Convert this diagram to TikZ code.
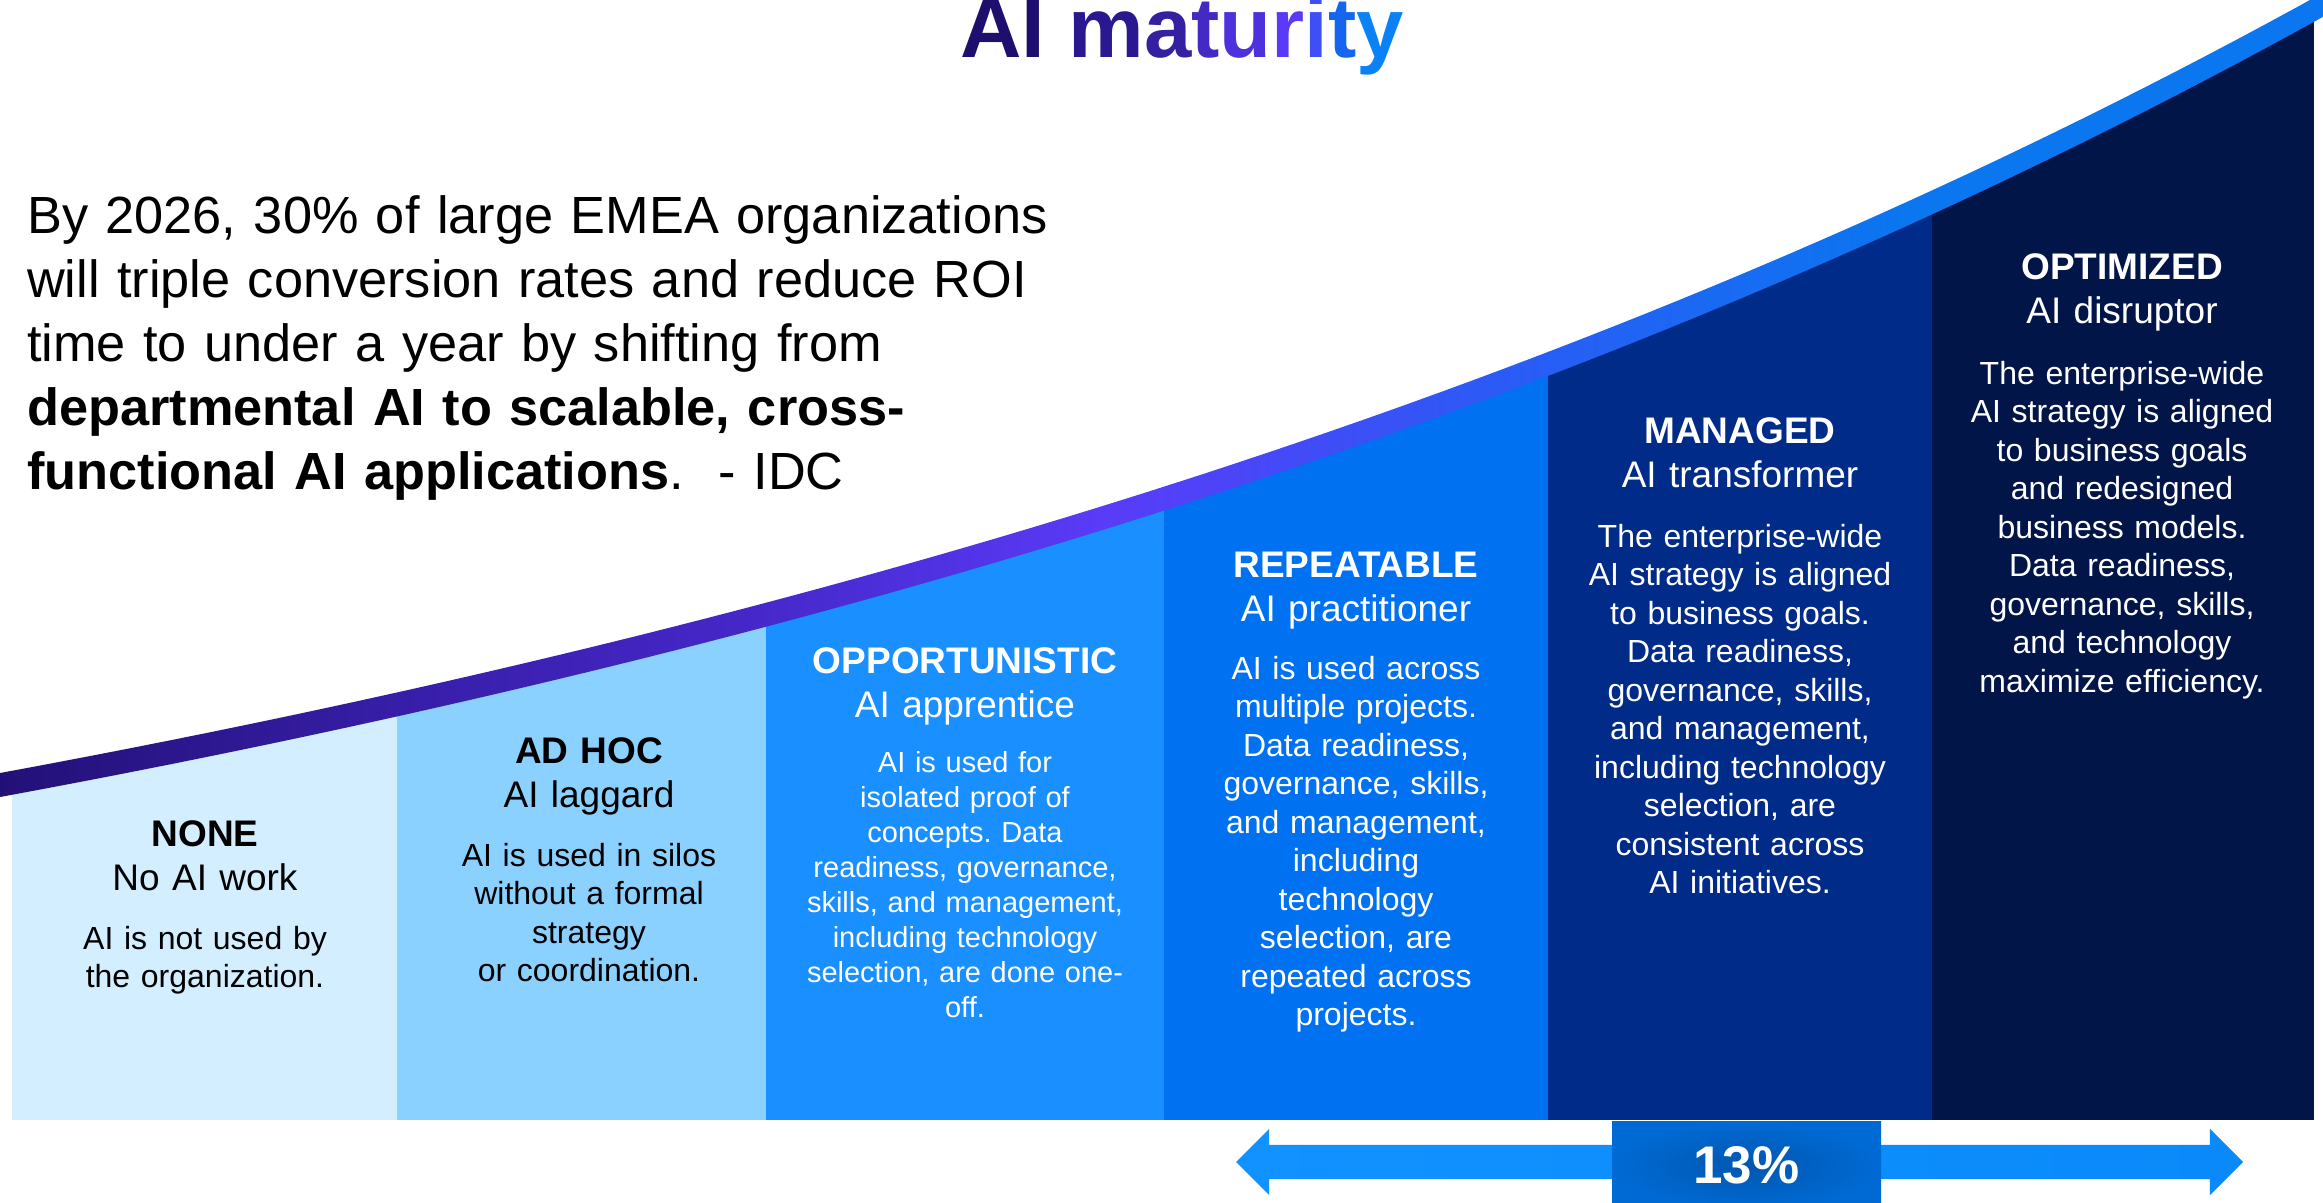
\documentclass[tikz,border=0pt]{standalone}
\usepackage{fontspec}
\setmainfont{Liberation Sans}
\usetikzlibrary{shapes.arrows}
\frenchspacing

\definecolor{lvlnone}{HTML}{D2EEFF}
\definecolor{lvladhoc}{HTML}{8AD1FF}
\definecolor{lvlopp}{HTML}{1A8FFF}
\definecolor{lvlrep}{HTML}{0071F0}
\definecolor{lvlman}{HTML}{012B89}
\definecolor{lvlopt}{HTML}{011549}
\definecolor{bandA}{HTML}{231077}
\definecolor{bandB}{HTML}{371EA8}
\definecolor{bandC}{HTML}{4527C8}
\definecolor{bandD}{HTML}{5A3BF8}
\definecolor{bandE}{HTML}{2B5BF6}
\definecolor{bandF}{HTML}{0A76EF}
\definecolor{ttlA}{HTML}{1E0F6E}
\definecolor{ttlB}{HTML}{2A1890}
\definecolor{ttlC}{HTML}{3520A2}
\definecolor{ttlD}{HTML}{4429C4}
\definecolor{ttlE}{HTML}{4E31DC}
\definecolor{ttlF}{HTML}{5A3AF8}
\definecolor{ttlG}{HTML}{3D50F5}
\definecolor{ttlH}{HTML}{1565F0}
\definecolor{ttlI}{HTML}{0A82F6}
\definecolor{arrL}{HTML}{1192FF}
\definecolor{arrM}{HTML}{0561C9}
\definecolor{arrR}{HTML}{0A8AFA}
\definecolor{pctin}{HTML}{0057B0}
\definecolor{pctout}{HTML}{006AD4}

\pgfdeclarehorizontalshading{bandshade}{100bp}{%
  color(0bp)=(bandA); color(25bp)=(bandA); color(33.6bp)=(bandB);
  color(41bp)=(bandC); color(48.7bp)=(bandD); color(57.3bp)=(bandE);
  color(66bp)=(bandF); color(75bp)=(bandF); color(100bp)=(bandF)}

\tikzset{
  lvlhead/.style={anchor=base, text width=370pt, align=center, inner sep=0pt,
    font=\fontsize{37}{44}\selectfont},
  lvlbody/.style={anchor=base, text width=370pt, align=center, inner sep=0pt,
    font=\fontsize{32}{38.5}\selectfont},
}

\begin{document}
\begin{tikzpicture}[x=1pt, y=-1pt,
    declare function={crv(\t)=785-390*(exp(0.000476*\t)-1);}]
  \clip (0,0) rectangle (2323,1202);
  \fill[white] (0,0) rectangle (2323,1202);

  % maturity levels under the curve
  \begin{scope}
    \clip plot[domain=0:2323, samples=80] (\x,{crv(\x)}) -- (2323,1202) -- (0,1202) -- cycle;
    \foreach \xa/\xb/\col in {12/397/lvlnone, 397/766/lvladhoc, 766/1164/lvlopp,
        1164/1548/lvlrep, 1548/1932/lvlman, 1932/2314/lvlopt} {%
      \fill[\col] (\xa,0) rectangle (\xb,1120);
    }
  \end{scope}
  \shade[shading=bandshade] plot[domain=0:2323, samples=80] (\x,{crv(\x)-12})
    -- plot[domain=2323:0, samples=80] (\x,{crv(\x)+12}) -- cycle;

  \node[anchor=base, inner sep=0pt, font=\bfseries\fontsize{85}{90}\selectfont] (title) at (1182,57)
    {\textcolor{ttlA}{AI} \textcolor{ttlB}{m}\textcolor{ttlC}{a}\textcolor{ttlD}{t}\textcolor{ttlE}{u}\textcolor{ttlF}{r}\textcolor{ttlG}{i}\textcolor{ttlH}{t}\textcolor{ttlI}{y}};

  \node[anchor=base west, text width=1150pt, align=left, inner sep=0pt,
    font=\fontsize{52.3}{64}\selectfont] (quote) at (27,233)
    {By 2026, 30\% of large EMEA organizations\\
     will triple conversion rates and reduce ROI\\
     time to under a year by shifting from\\
     \textbf{departmental AI to scalable, cross-}\\
     \textbf{functional AI applications}.\ \ - IDC};

  \node[lvlhead] (none-h) at (205,846) {\textbf{NONE}\\No AI work};
  \node[lvlbody] (none-b) at (205,949) {AI is not used by\\the organization.};

  \node[lvlhead] (adhoc-h) at (589,763) {\textbf{AD HOC}\\AI laggard};
  \node[lvlbody] (adhoc-b) at (589,866) {AI is used in silos\\without a formal\\strategy\\or coordination.};

  \node[lvlhead, text=white] (opp-h) at (965,673) {\textbf{OPPORTUNISTIC}\\AI apprentice};
  \node[lvlbody, text=white, font=\fontsize{29}{35}\selectfont] (opp-b) at (965,772)
    {AI is used for\\isolated proof of\\concepts. Data\\readiness, governance,\\skills, and management,\\including technology\\selection, are done one-\\off.};

  \node[lvlhead, text=white] (rep-h) at (1356,577) {\textbf{REPEATABLE}\\AI practitioner};
  \node[lvlbody, text=white] (rep-b) at (1356,679)
    {AI is used across\\multiple projects.\\Data readiness,\\governance, skills,\\and management,\\including\\technology\\selection, are\\repeated across\\projects.};

  \node[lvlhead, text=white] (man-h) at (1740,443) {\textbf{MANAGED}\\AI transformer};
  \node[lvlbody, text=white] (man-b) at (1740,547)
    {The enterprise-wide\\AI strategy is aligned\\to business goals.\\Data readiness,\\governance, skills,\\and management,\\including technology\\selection, are\\consistent across\\AI initiatives.};

  \node[lvlhead, text=white] (opt-h) at (2122,279) {\textbf{OPTIMIZED}\\AI disruptor};
  \node[lvlbody, text=white] (opt-b) at (2122,384)
    {The enterprise-wide\\AI strategy is aligned\\to business goals\\and redesigned\\business models.\\Data readiness,\\governance, skills,\\and technology\\maximize efficiency.};

  % span arrow and share
  \node[double arrow, double arrow head extend=16pt, inner xsep=0pt, inner ysep=17pt,
    minimum height=1007pt, left color=arrL, middle color=arrM, right color=arrR] (span) at (1739.5,1162) {};
  \node[minimum width=269pt, minimum height=89pt, inner sep=0pt, inner color=pctin, outer color=pctout,
    text=white, font=\bfseries\fontsize{53}{60}\selectfont] (pct) at (1746.5,1165.5) {13\%};
\end{tikzpicture}
\end{document}
